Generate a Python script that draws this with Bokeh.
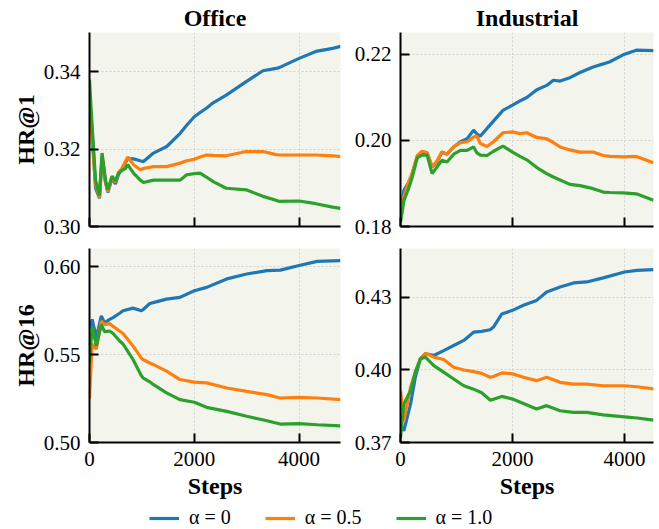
from bokeh.plotting import figure
from bokeh.layouts import column, row
from bokeh.models import (Range1d, FixedTicker, NumeralTickFormatter, Title,
                          Legend, LegendItem)
from bokeh.embed import file_html
from bokeh.resources import INLINE

# ---------------- data ----------------
COLORS = ["#1f77b4", "#ff7f0e", "#2ca02c"]
LEGEND_LABELS = ["α = 0", "α = 0.5", "α = 1.0"]
COL_TITLES = ["Office", "Industrial"]
ROW_LABELS = ["HR@1", "HR@16"]
X_TICKS = [0, 2000, 4000]

# Office, HR@1
off1_steps = [0, 50, 115, 190, 240, 305, 350, 430, 495, 555, 620, 685, 730, 840,
              970, 1030, 1220, 1475, 1730, 1855, 2000, 2110, 2230, 2360, 2610,
              2990, 3310, 3560, 3620, 4000, 4320, 4640, 4790]
off1_a0 = [0.334, 0.325, 0.310, 0.3073, 0.318, 0.3115, 0.3088, 0.3125, 0.311,
           0.3135, 0.315, 0.3165, 0.3175, 0.3175, 0.317, 0.3168, 0.319, 0.3207,
           0.3241, 0.3262, 0.3284, 0.3295, 0.3306, 0.332, 0.334, 0.3375, 0.3403,
           0.3409, 0.3411, 0.3435, 0.3453, 0.3461, 0.3466]
off1_a05 = [0.332, 0.322, 0.311, 0.3075, 0.3185, 0.3115, 0.309, 0.3128, 0.3115,
            0.314, 0.315, 0.3168, 0.318, 0.316, 0.3147, 0.315, 0.3155, 0.3155,
            0.3164, 0.317, 0.3174, 0.318, 0.3185, 0.3184, 0.3183, 0.3194, 0.3194,
            0.3186, 0.3185, 0.3185, 0.3185, 0.3183, 0.3181]
off1_a10 = [0.338, 0.326, 0.312, 0.308, 0.319, 0.312, 0.3095, 0.313, 0.3118,
            0.3138, 0.3145, 0.315, 0.316, 0.3138, 0.312, 0.3114, 0.312, 0.312,
            0.312, 0.3134, 0.3137, 0.3138, 0.3128, 0.3116, 0.3099, 0.3095, 0.3078,
            0.3068, 0.3065, 0.3066, 0.3059, 0.305, 0.3047]

# Industrial, HR@1
ind1_steps = [0, 60, 150, 210, 300, 385, 475, 565, 650, 740, 830, 950, 1070, 1190,
              1305, 1365, 1425, 1545, 1660, 1830, 2000, 2135, 2255, 2435, 2610,
              2730, 2850, 3025, 3205, 3440, 3620, 3740, 3975, 4210, 4518]
ind1_a0 = [0.183, 0.1884, 0.1903, 0.1923, 0.1962, 0.1973, 0.1971, 0.1938, 0.195,
           0.1973, 0.1968, 0.1985, 0.1997, 0.2004, 0.2024, 0.2015, 0.201, 0.2028,
           0.2045, 0.207, 0.2082, 0.2092, 0.21, 0.2118, 0.2128, 0.214, 0.2138,
           0.2146, 0.2158, 0.2171, 0.2178, 0.2183, 0.2199, 0.221, 0.2209]
ind1_a05 = [0.182, 0.187, 0.1905, 0.1925, 0.1965, 0.1975, 0.1972, 0.1938, 0.1952,
            0.1973, 0.1968, 0.1985, 0.1995, 0.1997, 0.2008, 0.201, 0.1993, 0.1986,
            0.1997, 0.2018, 0.202, 0.2016, 0.2018, 0.2007, 0.2004, 0.1995, 0.1985,
            0.1978, 0.1973, 0.1973, 0.1965, 0.1963, 0.1962, 0.1963, 0.1948]
ind1_a10 = [0.181, 0.186, 0.189, 0.1915, 0.196, 0.1966, 0.1966, 0.1923, 0.1938,
            0.1954, 0.195, 0.1968, 0.1977, 0.1977, 0.1985, 0.1971, 0.1966, 0.1965,
            0.1975, 0.1987, 0.1973, 0.1963, 0.1955, 0.1937, 0.1923, 0.1915, 0.1908,
            0.1898, 0.1895, 0.1888, 0.188, 0.1879, 0.1878, 0.1876, 0.1861]

# Office, HR@16
off16_steps = [0, 50, 130, 225, 290, 385, 450, 575, 640, 830, 990, 1020, 1150,
               1215, 1470, 1725, 2000, 2235, 2620, 3000, 3385, 3640, 4000, 4345, 4790]
off16_a0 = [0.565, 0.570, 0.5596, 0.572, 0.568, 0.570, 0.571, 0.5735, 0.5749,
            0.5764, 0.5749, 0.5755, 0.579, 0.5795, 0.5815, 0.5825, 0.5863, 0.5882,
            0.593, 0.5958, 0.5977, 0.598, 0.6006, 0.603, 0.6034]
off16_a05 = [0.525, 0.556, 0.553, 0.569, 0.567, 0.5676, 0.566, 0.5634, 0.562,
             0.5549, 0.548, 0.5472, 0.5452, 0.5444, 0.5406, 0.5358, 0.5343, 0.5339,
             0.531, 0.5291, 0.5272, 0.5253, 0.5257, 0.5253, 0.5244]
off16_a10 = [0.545, 0.566, 0.5549, 0.567, 0.563, 0.5634, 0.562, 0.5577, 0.556,
             0.5472, 0.538, 0.5368, 0.5345, 0.533, 0.5282, 0.5244, 0.5229, 0.52,
             0.5177, 0.5149, 0.5124, 0.5105, 0.5107, 0.5101, 0.5095]

# Industrial, HR@16
ind16_steps = [0, 60, 180, 265, 355, 445, 595, 770, 950, 1130, 1305, 1450, 1600,
               1660, 1810, 2000, 2195, 2430, 2610, 2850, 3090, 3325, 3620, 4000,
               4225, 4518]
ind16_a0 = [0.378, 0.3748, 0.3859, 0.3969, 0.4045, 0.4066, 0.4059, 0.4079, 0.41,
            0.4121, 0.4155, 0.4158, 0.4165, 0.4176, 0.423, 0.4245, 0.4266, 0.4286,
            0.4321, 0.4341, 0.4358, 0.4362, 0.4379, 0.4403, 0.441, 0.4413]
ind16_a05 = [0.3914, 0.379, 0.3928, 0.399, 0.4045, 0.4068, 0.4052, 0.4042, 0.401,
             0.3999, 0.3992, 0.3985, 0.3969, 0.3972, 0.3987, 0.3983, 0.3969, 0.3955,
             0.3969, 0.3948, 0.3941, 0.3941, 0.3934, 0.3934, 0.393, 0.3921]
ind16_a10 = [0.372, 0.3859, 0.3914, 0.399, 0.4045, 0.4052, 0.4017, 0.399, 0.3962,
             0.3934, 0.392, 0.3905, 0.3875, 0.3878, 0.389, 0.3879, 0.3861, 0.3838,
             0.3852, 0.3831, 0.3824, 0.3824, 0.3814, 0.3806, 0.3801, 0.3792]

panels = [
    dict(steps=off1_steps, series=[off1_a0, off1_a05, off1_a10], xmax=4790,
         yr=(0.30, 0.3502), yticks=[0.30, 0.32, 0.34]),
    dict(steps=ind1_steps, series=[ind1_a0, ind1_a05, ind1_a10], xmax=4518,
         yr=(0.18, 0.2251), yticks=[0.18, 0.20, 0.22]),
    dict(steps=off16_steps, series=[off16_a0, off16_a05, off16_a10], xmax=4790,
         yr=(0.50, 0.6103), yticks=[0.50, 0.55, 0.60]),
    dict(steps=ind16_steps, series=[ind16_a0, ind16_a05, ind16_a10], xmax=4518,
         yr=(0.37, 0.450), yticks=[0.37, 0.40, 0.43]),
]

FONT = "Liberation Serif"
BG = "#f3f5ed"

def make_panel(i):
    d = panels[i]
    top_row = i < 2
    left_col = i % 2 == 0
    bl, fw, br = (89, 251, 2) if left_col else (58, 253, 6)
    bt, fh, bb = (32, 194, 13) if top_row else (9, 194, 63)
    p = figure(width=bl + fw + br, height=bt + fh + bb, output_backend="svg",
               toolbar_location=None,
               x_range=Range1d(0, d["xmax"]), y_range=Range1d(*d["yr"]),
               min_border_left=bl, min_border_right=br,
               min_border_top=bt, min_border_bottom=bb)
    p.outline_line_color = None
    p.background_fill_color = BG
    p.border_fill_color = "white"

    for vals, c in zip(d["series"], COLORS):
        p.line(d["steps"], vals, line_color=c, line_width=3.2)

    p.xaxis.ticker = FixedTicker(ticks=X_TICKS)
    p.yaxis.ticker = FixedTicker(ticks=d["yticks"])
    p.yaxis.formatter = NumeralTickFormatter(format="0.00")
    for ax in (p.xaxis[0], p.yaxis[0]):
        ax.axis_line_width = 2
        ax.axis_line_color = "black"
        ax.major_tick_in = 9
        ax.major_tick_out = 0
        ax.major_tick_line_width = 2
        ax.minor_tick_line_color = None
        ax.major_label_text_font = FONT
        ax.major_label_text_font_size = "21px"
        ax.major_label_text_color = "black"
        ax.axis_label_text_font = FONT
        ax.axis_label_text_font_size = "24px"
        ax.axis_label_text_font_style = "bold"
        ax.axis_label_text_color = "black"
    p.yaxis.major_label_standoff = 9
    p.yaxis.axis_label_standoff = 2
    p.xaxis.major_label_standoff = 9
    p.xaxis.axis_label_standoff = 4
    if top_row:
        p.xaxis.major_label_overrides = {t: "" for t in X_TICKS}
        p.xaxis.major_label_standoff = 0
        p.add_layout(Title(text=COL_TITLES[i], align="center", standoff=4,
                           text_font=FONT, text_font_size="24px",
                           text_font_style="bold", text_color="black"), "above")
    else:
        p.xaxis.axis_label = "Steps"
    if left_col:
        p.yaxis.axis_label = ROW_LABELS[0 if top_row else 1]

    p.grid.grid_line_color = "#c8c8c8"
    p.grid.grid_line_dash = "2 2"
    p.grid.grid_line_width = 1
    p.grid.grid_line_alpha = 0.8
    return p

figs = [make_panel(i) for i in range(4)]

# legend strip
lg = figure(width=659, height=24, output_backend="svg", toolbar_location=None,
            x_axis_location=None, y_axis_location=None,
            min_border=0, x_range=Range1d(0, 1), y_range=Range1d(0, 1))
lg.outline_line_color = None
lg.grid.visible = False
lg.background_fill_color = "white"
items = []
for c, lab in zip(COLORS, LEGEND_LABELS):
    r = lg.line([5, 6], [5, 6], line_color=c, line_width=3.2)
    items.append(LegendItem(label=lab, renderers=[r]))
legend = Legend(items=items, orientation="horizontal", location=(149, 0),
                padding=0, margin=0, spacing=34, glyph_width=30, glyph_height=20,
                label_standoff=10, label_text_font=FONT,
                label_text_font_size="20px", label_text_color="black",
                border_line_alpha=0, background_fill_alpha=0)
lg.add_layout(legend)

layout = column(row(figs[0], figs[1]), row(figs[2], figs[3]), lg, spacing=0)

open("out.html", "w").write(file_html(layout, INLINE))
